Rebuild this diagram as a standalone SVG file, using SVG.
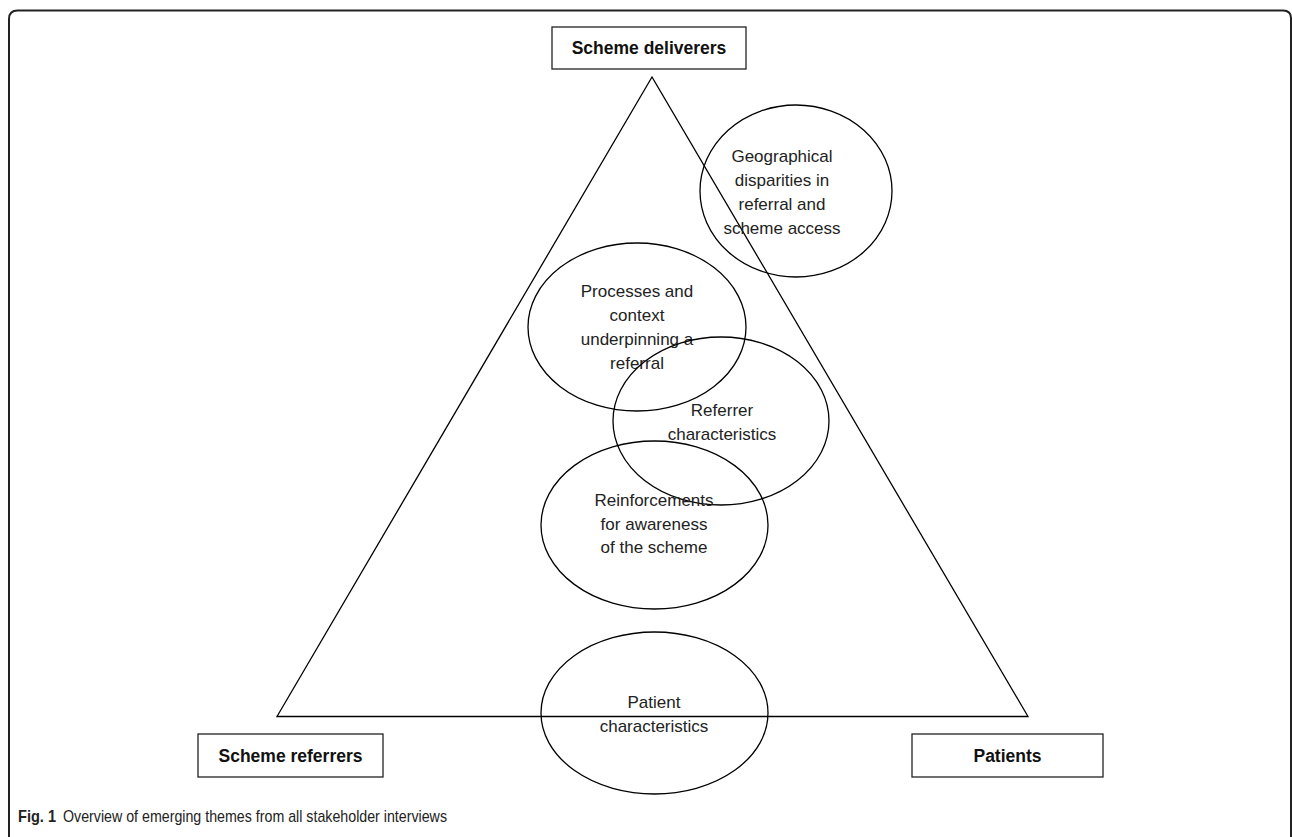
<svg xmlns="http://www.w3.org/2000/svg" width="1292" height="837" viewBox="0 0 1292 837">
<style>
.ln{fill:none;stroke:#000;stroke-width:1.3}
.box{fill:#fff;stroke:#222;stroke-width:1.3}
.t{font-family:"Liberation Sans",Arial,sans-serif;font-size:17px;fill:#222;text-anchor:middle}
.b{font-family:"Liberation Sans",Arial,sans-serif;font-size:17.5px;font-weight:bold;fill:#111;text-anchor:middle}
.cap{font-family:"Liberation Sans",Arial,sans-serif;font-size:17px;fill:#222}
</style>
<rect width="1292" height="837" fill="#fff"/>
<path d="M9,837 V19 Q9,10.5 17.5,10.5 H1283 Q1291,10.5 1291,18 V837" fill="none" stroke="#222" stroke-width="2"/>
<g id="connectors">
<polygon class="ln" points="652,77 277,716.5 1028,716.5"/>
</g>
<g id="scheme-deliverers"><rect class="box" x="552" y="27" width="194" height="42"/><text class="b" x="649" y="54">Scheme deliverers</text></g>
<g id="scheme-referrers"><rect class="box" x="198" y="734" width="185" height="43"/><text class="b" x="290.5" y="762">Scheme referrers</text></g>
<g id="patients"><rect class="box" x="912" y="734" width="191" height="43"/><text class="b" x="1007.5" y="762">Patients</text></g>
<g id="geographical"><ellipse class="ln" cx="796" cy="191" rx="96" ry="86"/>
<text class="t" x="782"><tspan x="782" y="162">Geographical</tspan><tspan x="782" y="186">disparities in</tspan><tspan x="782" y="210">referral and</tspan><tspan x="782" y="234">scheme access</tspan></text></g>
<g id="processes"><ellipse class="ln" cx="637" cy="327" rx="109" ry="84"/>
<text class="t"><tspan x="637" y="297">Processes and</tspan><tspan x="637" y="321">context</tspan><tspan x="637" y="345">underpinning a</tspan><tspan x="637" y="369">referral</tspan></text></g>
<g id="referrer"><ellipse class="ln" cx="721" cy="421" rx="108" ry="84"/>
<text class="t"><tspan x="722" y="416">Referrer</tspan><tspan x="722" y="440">characteristics</tspan></text></g>
<g id="reinforcements"><ellipse class="ln" cx="654.5" cy="525" rx="113.5" ry="84"/>
<text class="t"><tspan x="654" y="506">Reinforcements</tspan><tspan x="654" y="530">for awareness</tspan><tspan x="654" y="553">of the scheme</tspan></text></g>
<g id="patient-characteristics"><ellipse class="ln" cx="654.5" cy="713" rx="113.5" ry="81"/>
<text class="t"><tspan x="654" y="708">Patient</tspan><tspan x="654" y="732">characteristics</tspan></text></g>
<text class="cap" x="18" y="822" font-weight="bold" textLength="38" lengthAdjust="spacingAndGlyphs">Fig. 1</text>
<text class="cap" x="63" y="822" textLength="384" lengthAdjust="spacingAndGlyphs">Overview of emerging themes from all stakeholder interviews</text>
</svg>
